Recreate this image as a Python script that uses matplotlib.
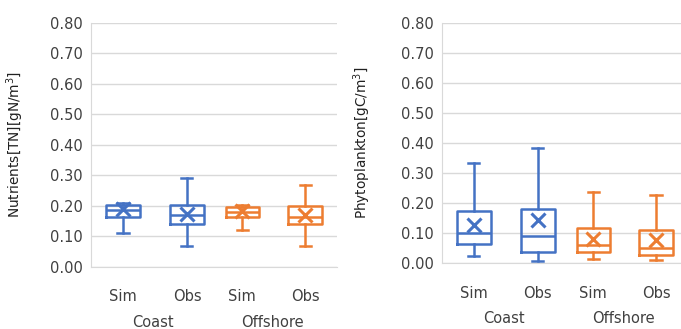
import numpy as np
import matplotlib
matplotlib.use('Agg')
import matplotlib.pyplot as plt

groups = ['Coast', 'Offshore']
series = ['Sim', 'Obs', 'Sim', 'Obs']
colors = ['#4472C4', '#4472C4', '#ED7D31', '#ED7D31']
yticks = [0.0, 0.1, 0.2, 0.3, 0.4, 0.5, 0.6, 0.7, 0.8]

# nutrients (TN) box statistics, in order Coast Sim, Coast Obs, Offshore Sim, Offshore Obs
tn_min = [0.113, 0.070, 0.122, 0.070]
tn_q1 = [0.165, 0.142, 0.165, 0.142]
tn_med = [0.186, 0.170, 0.180, 0.165]
tn_q3 = [0.202, 0.202, 0.196, 0.200]
tn_max = [0.210, 0.290, 0.202, 0.270]
tn_mean = [0.190, 0.175, 0.182, 0.170]

# phytoplankton box statistics
ph_min = [0.025, 0.008, 0.015, 0.010]
ph_q1 = [0.065, 0.037, 0.037, 0.027]
ph_med = [0.101, 0.092, 0.060, 0.052]
ph_q3 = [0.175, 0.179, 0.118, 0.112]
ph_max = [0.333, 0.385, 0.237, 0.227]
ph_mean = [0.127, 0.145, 0.082, 0.079]

positions = [0.52, 1.56, 2.46, 3.48]
group_pos = [1.0, 2.95]


def draw(ax, mins, q1, med, q3, maxs, means, ylabel):
    for i in range(4):
        st = [dict(whislo=mins[i], q1=q1[i], med=med[i], q3=q3[i], whishi=maxs[i],
                   mean=means[i], fliers=[])]
        c = colors[i]
        ax.bxp(st, positions=[positions[i]], widths=0.54, showmeans=True,
               boxprops=dict(color=c, lw=1.8),
               whiskerprops=dict(color=c, lw=1.8),
               capprops=dict(color=c, lw=1.8),
               medianprops=dict(color=c, lw=1.8),
               meanprops=dict(marker='x', markeredgecolor=c, markersize=10, markeredgewidth=2.2),
               capwidths=0.18, manage_ticks=False)
    ax.set_xlim(0, 4)
    ax.set_ylim(0, 0.8)
    ax.set_yticks(yticks)
    ax.set_yticklabels(['%.2f' % v for v in yticks], fontsize=10.5, color='#404040')
    ax.set_xticks(positions)
    ax.set_xticklabels(series, fontsize=10.5, color='#404040')
    ax.tick_params(length=0)
    ax.tick_params(axis='x', pad=16)
    ax.tick_params(axis='y', pad=6)
    ax.grid(axis='y', color='#D9D9D9', lw=1)
    ax.set_axisbelow(True)
    for s in ['top', 'right']:
        ax.spines[s].set_visible(False)
    ax.spines['left'].set_color('#D9D9D9')
    ax.spines['bottom'].set_color('#D9D9D9')
    ax.set_ylabel(ylabel, fontsize=9.8, color='#202020')
    for g, x in zip(groups, group_pos):
        ax.annotate(g, xy=(x, 0), xycoords=('data', 'axes fraction'), xytext=(0, -55),
                    textcoords='offset pixels', ha='center', va='center',
                    fontsize=10.5, color='#404040')


fig = plt.figure(figsize=(6.81, 3.29), dpi=100)
ax1 = fig.add_axes([0.1336, 0.1884, 0.3613, 0.7426])
ax2 = fig.add_axes([0.649, 0.1997, 0.3613, 0.7313])

draw(ax1, tn_min, tn_q1, tn_med, tn_q3, tn_max, tn_mean, 'Nutrients[TN][gN/m$^3$]')
draw(ax2, ph_min, ph_q1, ph_med, ph_q3, ph_max, ph_mean, 'Phytoplankton[gC/m$^3$]')
ax1.yaxis.set_label_coords(-0.265, 0.5)
ax2.yaxis.set_label_coords(-0.28, 0.5)

fig.savefig('out.png', dpi=100)
